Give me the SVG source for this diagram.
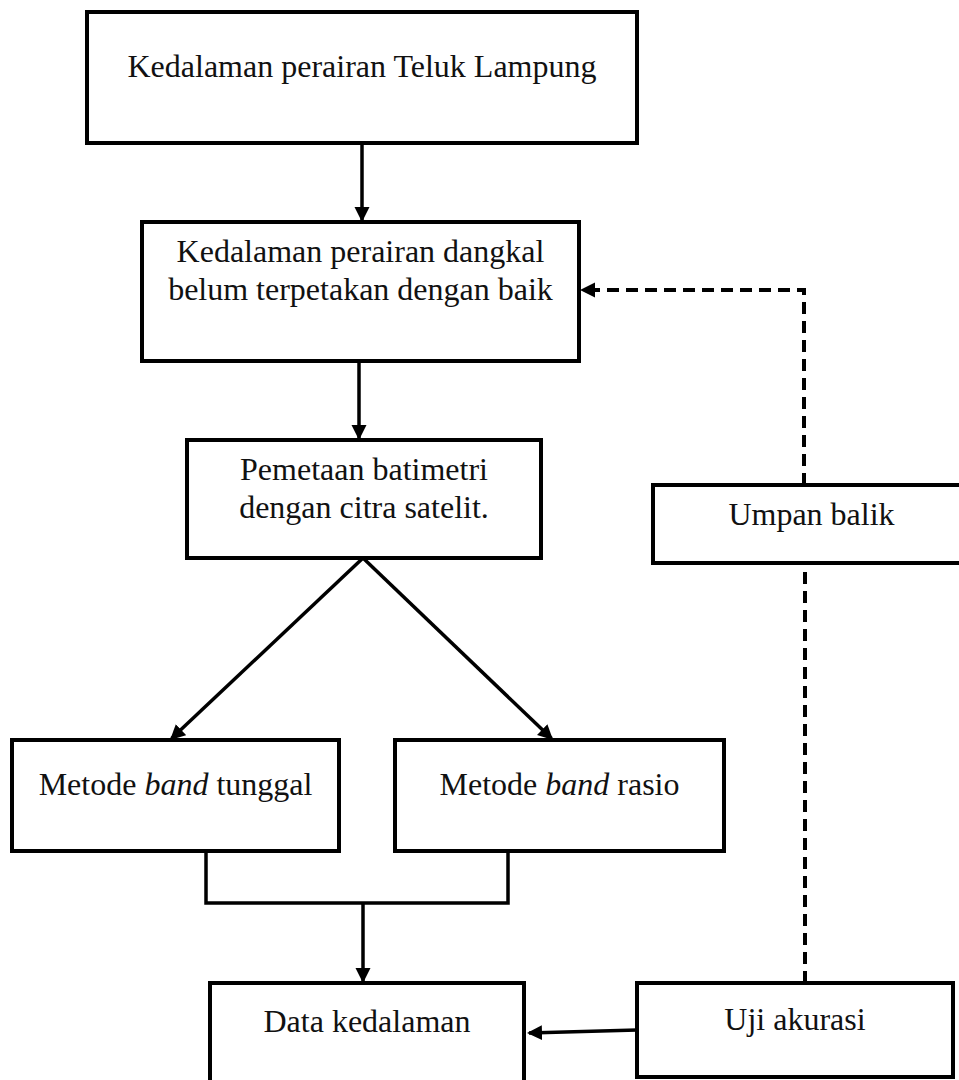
<svg xmlns="http://www.w3.org/2000/svg" width="959" height="1080" viewBox="0 0 959 1080">
<style>
  .box { fill: #ffffff; stroke: #000000; stroke-width: 4; }
  .lbl { font-family: "Liberation Serif", "Times New Roman", serif; font-size: 32px; fill: #111111; text-anchor: middle; }
  .con { fill: none; stroke: #000000; stroke-width: 3.5; }
  .dash { fill: none; stroke: #000000; stroke-width: 4; stroke-dasharray: 12 7; }
</style>
<defs>
  <marker id="arr" markerUnits="userSpaceOnUse" markerWidth="18" markerHeight="18" refX="13" refY="7.5" orient="auto">
    <path d="M0,0 L15,7.5 L0,15 z" fill="#000000"/>
  </marker>
</defs>
<rect x="0" y="0" width="959" height="1080" fill="#ffffff"/>

<g id="connectors">
  <path class="con" d="M362,143 V220" marker-end="url(#arr)"/>
  <path class="con" d="M359,361 V438" marker-end="url(#arr)"/>
  <path class="con" d="M363,558 L171.5,738.6" marker-end="url(#arr)"/>
  <path class="con" d="M363,558 L551.6,738.6" marker-end="url(#arr)"/>
  <path class="con" d="M206,851 V903 H508 V851"/>
  <path class="con" d="M363,903 V981" marker-end="url(#arr)"/>
  <path class="con" d="M637,1030 L529,1033" marker-end="url(#arr)"/>
  <path class="dash" d="M805,983 V563"/>
  <path class="dash" d="M804,485 V290 H582" marker-end="url(#arr)"/>
</g>

<g id="n-teluk">
  <rect class="box" x="87" y="12" width="550" height="131"/>
  <text class="lbl" x="362" y="77">Kedalaman perairan Teluk Lampung</text>
</g>
<g id="n-dangkal">
  <rect class="box" x="142" y="222" width="437" height="139"/>
  <text class="lbl" x="360.5" y="262">Kedalaman perairan dangkal</text>
  <text class="lbl" x="360.5" y="300">belum terpetakan dengan baik</text>
</g>
<g id="n-pemetaan">
  <rect class="box" x="187" y="440" width="354" height="118"/>
  <text class="lbl" x="364" y="480">Pemetaan batimetri</text>
  <text class="lbl" x="364" y="518">dengan citra satelit.</text>
</g>
<g id="n-tunggal">
  <rect class="box" x="12" y="740" width="327" height="111"/>
  <text class="lbl" x="175.5" y="795">Metode <tspan font-style="italic">band</tspan> tunggal</text>
</g>
<g id="n-rasio">
  <rect class="box" x="395" y="740" width="329" height="111"/>
  <text class="lbl" x="559.5" y="795">Metode <tspan font-style="italic">band</tspan> rasio</text>
</g>
<g id="n-data">
  <rect class="box" x="210" y="983" width="314" height="110"/>
  <text class="lbl" x="367" y="1032">Data kedalaman</text>
</g>
<g id="n-umpan">
  <rect class="box" x="653" y="485" width="322" height="78"/>
  <text class="lbl" x="811.5" y="525">Umpan balik</text>
</g>
<g id="n-uji">
  <rect class="box" x="637" y="983" width="316" height="94"/>
  <text class="lbl" x="795" y="1030">Uji akurasi</text>
</g>
</svg>
